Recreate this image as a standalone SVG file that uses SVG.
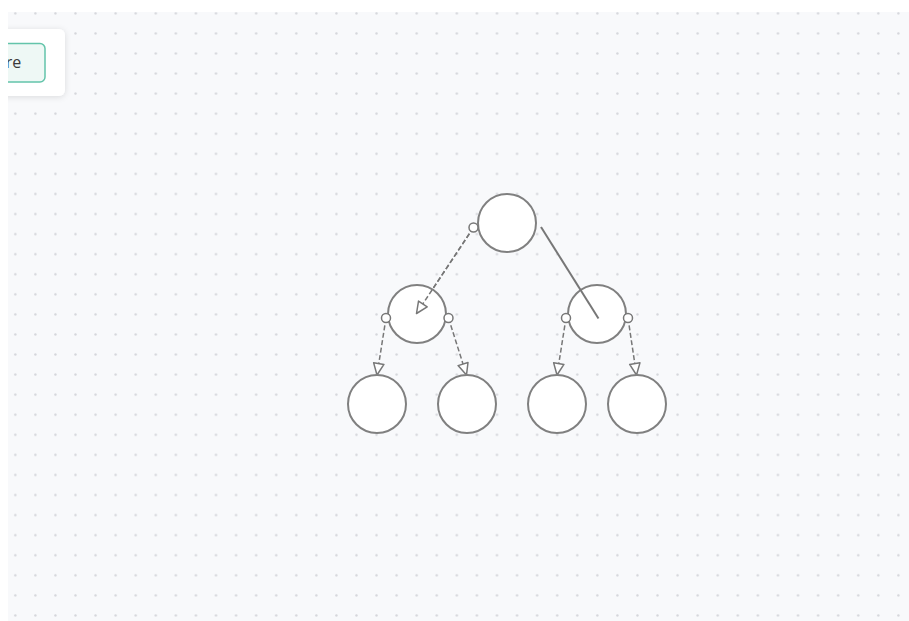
<svg xmlns="http://www.w3.org/2000/svg" width="909" height="621" viewBox="0 0 909 621">
  <defs>
    <pattern id="dots" x="5.3" y="3.3" width="20.07" height="20.07" patternUnits="userSpaceOnUse">
      <circle cx="10" cy="10" r="1.2" fill="#d4d5da"/>
    </pattern>
    <clipPath id="canvas-clip">
      <rect x="8" y="12" width="901" height="609"/>
    </clipPath>
    <marker id="tri" viewBox="0 0 14 14" refX="13" refY="7" markerWidth="14" markerHeight="14" markerUnits="userSpaceOnUse" orient="auto">
      <path d="M1.5,1.8 L13,7 L1.5,12.2 Z" fill="#ffffff" stroke="#777777" stroke-width="1.5" stroke-linejoin="round"/>
    </marker>
    <filter id="shadow" x="-30%" y="-30%" width="160%" height="160%">
      <feDropShadow dx="0" dy="1" stdDeviation="3" flood-color="#000000" flood-opacity="0.12"/>
    </filter>
  </defs>
  <style>
    .node circle { fill: #ffffff; stroke: #808080; stroke-width: 2; }
    .dash { fill: none; stroke: #777777; stroke-width: 1.5; stroke-dasharray: 5 2.5; marker-end: url(#tri); }
    .solid { fill: none; stroke: #777777; stroke-width: 2; }
    .port { fill: #ffffff; stroke: #777777; stroke-width: 1.5; }
    .label { font-family: "Open Sans", "Noto Sans", sans-serif; font-size: 16px; fill: #3a3a3a; }
  </style>

  <!-- canvas -->
  <rect x="0" y="0" width="909" height="621" fill="#ffffff"/>
  <rect x="8" y="12" width="901" height="609" fill="#f8f9fb"/>
  <rect x="8" y="12" width="901" height="609" fill="url(#dots)"/>

  <!-- toolbar card, scrolled partly out of the canvas -->
  <g id="toolbar" clip-path="url(#canvas-clip)">
    <rect x="-10" y="29" width="75" height="67" rx="6" fill="#ffffff" filter="url(#shadow)"/>
    <rect x="-10" y="43.5" width="55" height="38.5" rx="5" fill="#eef8f5" stroke="#63c4aa" stroke-width="1.5"/>
    <text class="label" x="5.8" y="68">re</text>
  </g>

  <!-- connectors -->
  <g id="connectors">
    <line class="dash" x1="473.5" y1="227.5" x2="416.5" y2="313.5"/>
    <line class="dash" x1="386" y1="318" x2="377" y2="375"/>
    <line class="dash" x1="448.5" y1="318" x2="466.5" y2="375"/>
    <line class="dash" x1="566" y1="318" x2="557" y2="375"/>
    <line class="dash" x1="628" y1="318" x2="636.5" y2="375"/>
  </g>

  <!-- nodes -->
  <g id="node-root" class="node"><circle cx="507" cy="223" r="29"/></g>
  <g id="node-left" class="node"><circle cx="417" cy="314" r="29"/></g>
  <g id="node-right" class="node"><circle cx="597" cy="314" r="29"/></g>
  <g id="node-ll" class="node"><circle cx="377" cy="404" r="29"/></g>
  <g id="node-lr" class="node"><circle cx="467" cy="404" r="29"/></g>
  <g id="node-rl" class="node"><circle cx="557" cy="404" r="29"/></g>
  <g id="node-rr" class="node"><circle cx="637" cy="404" r="29"/></g>

  <!-- edges drawn above the node fills, with their source ports -->
  <g id="connectors-over">
    <line class="dash" x1="473.5" y1="227.5" x2="416.5" y2="313.5"/>
    <line class="solid" x1="541" y1="227" x2="598.5" y2="318.5"/>
    <circle class="port" cx="473.5" cy="227.5" r="4.5"/>
    <circle class="port" cx="386" cy="318" r="4.5"/>
    <circle class="port" cx="448.5" cy="318" r="4.5"/>
    <circle class="port" cx="566" cy="318" r="4.5"/>
    <circle class="port" cx="628" cy="318" r="4.5"/>
  </g>
</svg>
